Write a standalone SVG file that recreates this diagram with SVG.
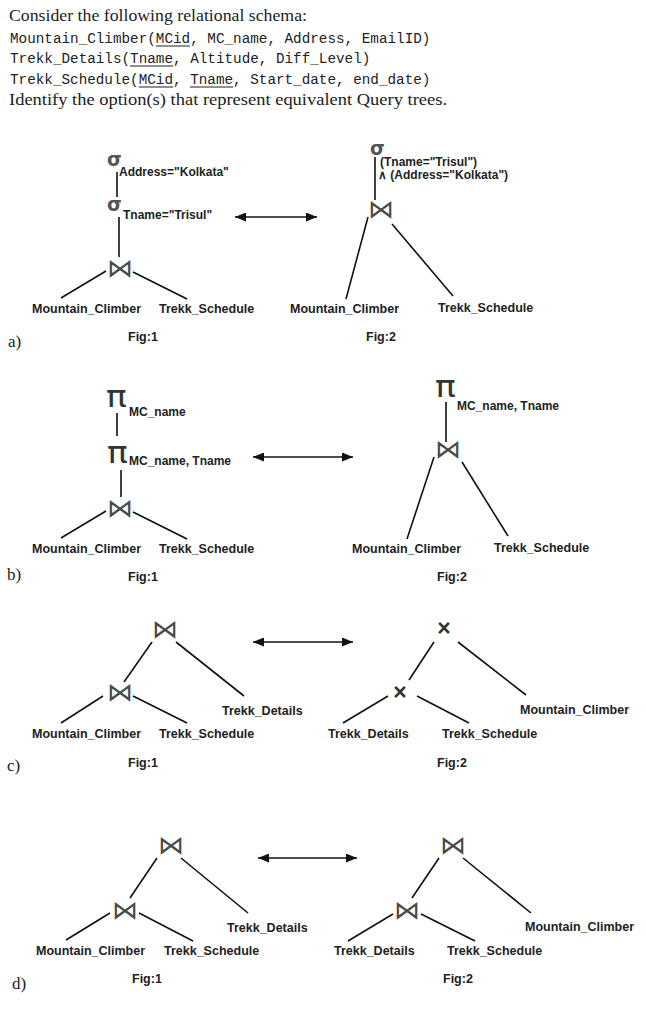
<svg xmlns="http://www.w3.org/2000/svg" width="646" height="1022" viewBox="0 0 646 1022">
<style>
.serif{font-family:"Liberation Serif","Times New Roman",serif;font-size:17px;fill:#222}
.mono{font-family:"Liberation Mono","Courier New",monospace;font-size:14.3px;fill:#222}
.lbl{font-family:"Liberation Sans",Arial,sans-serif;font-size:12.5px;font-weight:bold;fill:#222}
.sub{font-family:"Liberation Sans",Arial,sans-serif;font-size:12px;font-weight:bold;fill:#222}
.sig{font-family:"DejaVu Sans",sans-serif;font-size:19px;font-weight:bold;fill:#555}
.pi{font-family:"DejaVu Sans",sans-serif;font-size:30px;fill:#333}
.join{font-family:"DejaVu Sans",sans-serif;font-size:26px;fill:#4a4a4a;text-anchor:middle}
.cross{font-family:"Liberation Sans",Arial,sans-serif;font-size:23px;font-weight:bold;fill:#333;text-anchor:middle}
.edge{stroke:#111;stroke-width:1.6;fill:none}
.ul{stroke:#222;stroke-width:1.1}
.arr{stroke:#111;stroke-width:1.6;marker-start:url(#ah);marker-end:url(#ah)}
</style>
<defs>
<marker id="ah" markerUnits="userSpaceOnUse" markerWidth="11" markerHeight="9" refX="11" refY="4.5" orient="auto-start-reverse">
<path d="M0,0 L11,4.5 L0,9 z" fill="#111"/>
</marker>
</defs>
<rect width="646" height="1022" fill="#fff"/>

<g id="header">
<text class="serif" x="9" y="21" textLength="298" lengthAdjust="spacingAndGlyphs">Consider the following relational schema:</text>
<text class="mono" x="10" y="43">Mountain_Climber(MCid, MC_name, Address, EmailID)</text>
<text class="mono" x="10" y="63">Trekk_Details(Tname, Altitude, Diff_Level)</text>
<text class="mono" x="10" y="84">Trekk_Schedule(MCid, Tname, Start_date, end_date)</text>
<text class="serif" x="9" y="105" textLength="438" lengthAdjust="spacingAndGlyphs">Identify the option(s) that represent equivalent Query trees.</text>
<line class="ul" x1="156" y1="46" x2="190" y2="46"/>
<line class="ul" x1="130" y1="66" x2="173" y2="66"/>
<line class="ul" x1="139" y1="87" x2="173" y2="87"/>
<line class="ul" x1="190" y1="87" x2="233" y2="87"/>
</g>

<g id="connectors">
<!-- a fig1 -->
<line class="edge" x1="117" y1="172" x2="117" y2="197"/>
<line class="edge" x1="119" y1="217" x2="119" y2="257"/>
<line class="edge" x1="106" y1="271" x2="61" y2="298"/>
<line class="edge" x1="133" y1="272" x2="187" y2="299"/>
<!-- a fig2 -->
<line class="edge" x1="375" y1="157" x2="375" y2="200"/>
<line class="edge" x1="368" y1="217" x2="346" y2="299"/>
<line class="edge" x1="392" y1="224" x2="453" y2="296"/>
<!-- b fig1 -->
<line class="edge" x1="117" y1="413" x2="117" y2="436"/>
<line class="edge" x1="121" y1="470" x2="121" y2="497"/>
<line class="edge" x1="106" y1="511" x2="61" y2="538"/>
<line class="edge" x1="133" y1="512" x2="187" y2="539"/>
<!-- b fig2 -->
<line class="edge" x1="446" y1="402" x2="446" y2="442"/>
<line class="edge" x1="434" y1="457" x2="407" y2="539"/>
<line class="edge" x1="462" y1="462" x2="508" y2="536"/>
<!-- c fig1 -->
<line class="edge" x1="152" y1="642" x2="124" y2="682"/>
<line class="edge" x1="176" y1="642" x2="244" y2="696"/>
<line class="edge" x1="103" y1="696" x2="61" y2="723"/>
<line class="edge" x1="133" y1="696" x2="187" y2="723"/>
<!-- c fig2 -->
<line class="edge" x1="434" y1="642" x2="409" y2="680"/>
<line class="edge" x1="458" y1="642" x2="526" y2="695"/>
<line class="edge" x1="388" y1="696" x2="343" y2="723"/>
<line class="edge" x1="417" y1="696" x2="469" y2="723"/>
<!-- d fig1 -->
<line class="edge" x1="157" y1="858" x2="130" y2="898"/>
<line class="edge" x1="181" y1="858" x2="248" y2="913"/>
<line class="edge" x1="110" y1="913" x2="66" y2="940"/>
<line class="edge" x1="139" y1="913" x2="193" y2="941"/>
<!-- d fig2 -->
<line class="edge" x1="439" y1="858" x2="412" y2="898"/>
<line class="edge" x1="463" y1="858" x2="531" y2="913"/>
<line class="edge" x1="393" y1="914" x2="348" y2="941"/>
<line class="edge" x1="421" y1="914" x2="475" y2="941"/>
<!-- equivalence arrows -->
<line class="arr" x1="235" y1="217" x2="317" y2="217"/>
<line class="arr" x1="253" y1="457" x2="353" y2="457"/>
<line class="arr" x1="253" y1="642" x2="353" y2="642"/>
<line class="arr" x1="258" y1="858" x2="357" y2="858"/>
</g>

<!-- option a -->
<g id="a-label"><text class="serif" x="8" y="347">a)</text></g>
<g id="a1-sel-address"><text class="sig" x="107" y="166">σ</text><text class="sub" x="119" y="176">Address="Kolkata"</text></g>
<g id="a1-sel-tname"><text class="sig" x="107" y="211">σ</text><text class="sub" x="123" y="219">Tname="Trisul"</text></g>
<g id="a1-join"><text class="join" x="120" y="277">⋈</text></g>
<g id="a1-mc"><text class="lbl" x="32" y="313">Mountain_Climber</text></g>
<g id="a1-ts"><text class="lbl" x="159" y="313">Trekk_Schedule</text></g>
<g id="a1-fig"><text class="lbl" x="128" y="341">Fig:1</text></g>
<g id="a2-sel"><text class="sig" x="370" y="155">σ</text><text class="sub" x="380" y="166">(Tname="Trisul")</text><text class="sub" x="378" y="179">∧ (Address="Kolkata")</text></g>
<g id="a2-join"><text class="join" x="381" y="218">⋈</text></g>
<g id="a2-mc"><text class="lbl" x="290" y="313">Mountain_Climber</text></g>
<g id="a2-ts"><text class="lbl" x="438" y="312">Trekk_Schedule</text></g>
<g id="a2-fig"><text class="lbl" x="366" y="341">Fig:2</text></g>

<!-- option b -->
<g id="b-label"><text class="serif" x="7" y="580">b)</text></g>
<g id="b1-proj-mcname"><text class="pi" transform="translate(106,407) scale(1.15,1)">π</text><text class="sub" x="129" y="416">MC_name</text></g>
<g id="b1-proj-mcname-tname"><text class="pi" transform="translate(107,463) scale(1.15,1)">π</text><text class="sub" x="129" y="465">MC_name, Tname</text></g>
<g id="b1-join"><text class="join" x="120" y="517">⋈</text></g>
<g id="b1-mc"><text class="lbl" x="32" y="553">Mountain_Climber</text></g>
<g id="b1-ts"><text class="lbl" x="159" y="553">Trekk_Schedule</text></g>
<g id="b1-fig"><text class="lbl" x="128" y="581">Fig:1</text></g>
<g id="b2-proj"><text class="pi" transform="translate(435,397) scale(1.15,1)">π</text><text class="sub" x="457" y="410">MC_name, Tname</text></g>
<g id="b2-join"><text class="join" x="448" y="458">⋈</text></g>
<g id="b2-mc"><text class="lbl" x="352" y="553">Mountain_Climber</text></g>
<g id="b2-ts"><text class="lbl" x="494" y="552">Trekk_Schedule</text></g>
<g id="b2-fig"><text class="lbl" x="437" y="581">Fig:2</text></g>

<!-- option c -->
<g id="c-label"><text class="serif" x="7" y="771">c)</text></g>
<g id="c1-join-top"><text class="join" x="165" y="638">⋈</text></g>
<g id="c1-join-low"><text class="join" x="120" y="701">⋈</text></g>
<g id="c1-td"><text class="lbl" x="222" y="715">Trekk_Details</text></g>
<g id="c1-mc"><text class="lbl" x="32" y="738">Mountain_Climber</text></g>
<g id="c1-ts"><text class="lbl" x="159" y="738">Trekk_Schedule</text></g>
<g id="c1-fig"><text class="lbl" x="128" y="767">Fig:1</text></g>
<g id="c2-cross-top"><text class="cross" x="444" y="636">×</text></g>
<g id="c2-cross-low"><text class="cross" x="400" y="700">×</text></g>
<g id="c2-mc"><text class="lbl" x="520" y="714">Mountain_Climber</text></g>
<g id="c2-td"><text class="lbl" x="328" y="738">Trekk_Details</text></g>
<g id="c2-ts"><text class="lbl" x="442" y="738">Trekk_Schedule</text></g>
<g id="c2-fig"><text class="lbl" x="437" y="767">Fig:2</text></g>

<!-- option d -->
<g id="d-label"><text class="serif" x="12" y="989">d)</text></g>
<g id="d1-join-top"><text class="join" x="171" y="854">⋈</text></g>
<g id="d1-join-low"><text class="join" x="125" y="919">⋈</text></g>
<g id="d1-td"><text class="lbl" x="227" y="932">Trekk_Details</text></g>
<g id="d1-mc"><text class="lbl" x="36" y="955">Mountain_Climber</text></g>
<g id="d1-ts"><text class="lbl" x="164" y="955">Trekk_Schedule</text></g>
<g id="d1-fig"><text class="lbl" x="132" y="983">Fig:1</text></g>
<g id="d2-join-top"><text class="join" x="453" y="854">⋈</text></g>
<g id="d2-join-low"><text class="join" x="407" y="919">⋈</text></g>
<g id="d2-mc"><text class="lbl" x="525" y="931">Mountain_Climber</text></g>
<g id="d2-td"><text class="lbl" x="334" y="955">Trekk_Details</text></g>
<g id="d2-ts"><text class="lbl" x="447" y="955">Trekk_Schedule</text></g>
<g id="d2-fig"><text class="lbl" x="443" y="983">Fig:2</text></g>
</svg>
